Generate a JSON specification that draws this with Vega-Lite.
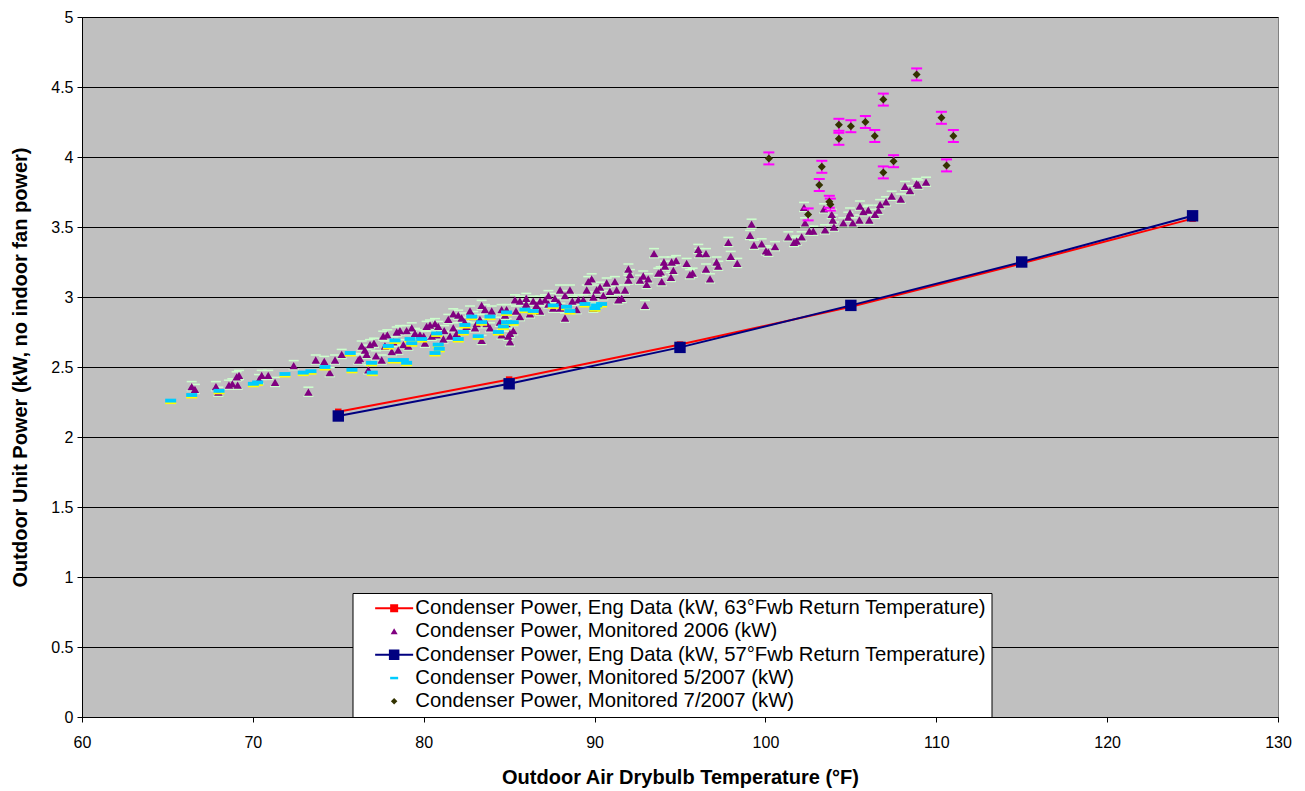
{
"$schema": "https://vega.github.io/schema/vega-lite/v6.json",
"width": 1196, "height": 700,
"autosize": {"type": "none"},
"padding": {"left": 82, "top": 17, "right": 27, "bottom": 74},
"background": "white",
"config": {"view": {"fill": "#C0C0C0", "stroke": "#808080"}, "font": "Liberation Sans"},
"data": {"values": [
{"s":"eng63","x":75,"y":2.18},{"s":"eng63","x":85,"y":2.41},{"s":"eng63","x":95,"y":2.66},{"s":"eng63","x":105,"y":2.93},{"s":"eng63","x":115,"y":3.24},{"s":"eng63","x":125,"y":3.56},
{"s":"m2006","x":66.42,"y":2.36},{"s":"m2006","x":66.61,"y":2.34},{"s":"m2006","x":67.84,"y":2.36},{"s":"m2006","x":67.98,"y":2.32},{"s":"m2006","x":68.6,"y":2.37},{"s":"m2006","x":68.8,"y":2.38},{"s":"m2006","x":69.05,"y":2.43},{"s":"m2006","x":69.19,"y":2.44},{"s":"m2006","x":69.11,"y":2.37},{"s":"m2006","x":70.36,"y":2.41},{"s":"m2006","x":70.52,"y":2.44},{"s":"m2006","x":70.9,"y":2.44},{"s":"m2006","x":71.3,"y":2.39},{"s":"m2006","x":72.39,"y":2.51},{"s":"m2006","x":73.25,"y":2.32},{"s":"m2006","x":73.68,"y":2.55},{"s":"m2006","x":74.18,"y":2.54},{"s":"m2006","x":74.81,"y":2.55},{"s":"m2006","x":74.5,"y":2.46},{"s":"m2006","x":75.2,"y":2.59},
{"s":"m2006","x":76.37,"y":2.65},{"s":"m2006","x":76.56,"y":2.62},{"s":"m2006","x":76.27,"y":2.56},{"s":"m2006","x":76.86,"y":2.66},{"s":"m2006","x":77.09,"y":2.67},{"s":"m2006","x":76.66,"y":2.59},{"s":"m2006","x":77.21,"y":2.58},{"s":"m2006","x":77.54,"y":2.55},{"s":"m2006","x":77.63,"y":2.72},{"s":"m2006","x":77.87,"y":2.73},{"s":"m2006","x":77.73,"y":2.65},{"s":"m2006","x":78.13,"y":2.61},{"s":"m2006","x":78.42,"y":2.75},{"s":"m2006","x":78.61,"y":2.76},{"s":"m2006","x":78.22,"y":2.68},{"s":"m2006","x":78.51,"y":2.62},{"s":"m2006","x":78.81,"y":2.66},{"s":"m2006","x":79.0,"y":2.76},{"s":"m2006","x":79.3,"y":2.78},{"s":"m2006","x":79.49,"y":2.74},{"s":"m2006","x":79.1,"y":2.65},{"s":"m2006","x":79.78,"y":2.73},{"s":"m2006","x":80.07,"y":2.67},{"s":"m2006","x":80.17,"y":2.79},{"s":"m2006","x":80.37,"y":2.8},{"s":"m2006","x":80.66,"y":2.81},{"s":"m2006","x":80.85,"y":2.79},{"s":"m2006","x":80.47,"y":2.72},{"s":"m2006","x":80.76,"y":2.73},{"s":"m2006","x":81.15,"y":2.7},{"s":"m2006","x":81.44,"y":2.84},{"s":"m2006","x":81.73,"y":2.88},{"s":"m2006","x":82.02,"y":2.87},{"s":"m2006","x":82.22,"y":2.85},{"s":"m2006","x":81.73,"y":2.78},{"s":"m2006","x":81.93,"y":2.74},{"s":"m2006","x":81.54,"y":2.72},{"s":"m2006","x":82.71,"y":2.9},{"s":"m2006","x":82.9,"y":2.86},{"s":"m2006","x":82.51,"y":2.79},{"s":"m2006","x":83.0,"y":2.78},{"s":"m2006","x":83.39,"y":2.94},{"s":"m2006","x":83.59,"y":2.91},{"s":"m2006","x":83.29,"y":2.84},{"s":"m2006","x":83.1,"y":2.81},{"s":"m2006","x":83.68,"y":2.81},{"s":"m2006","x":83.98,"y":2.9},{"s":"m2006","x":83.88,"y":2.78},{"s":"m2006","x":84.56,"y":2.91},{"s":"m2006","x":84.76,"y":2.87},{"s":"m2006","x":84.46,"y":2.82},{"s":"m2006","x":84.85,"y":2.81},{"s":"m2006","x":84.95,"y":2.72},{"s":"m2006","x":83.39,"y":2.69},{"s":"m2006","x":84.56,"y":2.73},{"s":"m2006","x":76.76,"y":2.48},{"s":"m2006","x":76.17,"y":2.55},
{"s":"m2006","x":85.05,"y":2.74},{"s":"m2006","x":85.05,"y":2.68},{"s":"m2006","x":85.24,"y":2.76},{"s":"m2006","x":85.34,"y":2.98},{"s":"m2006","x":85.63,"y":2.97},{"s":"m2006","x":85.93,"y":2.93},{"s":"m2006","x":86.41,"y":2.97},{"s":"m2006","x":86.81,"y":2.97},{"s":"m2006","x":87.1,"y":2.98},{"s":"m2006","x":87.68,"y":2.99},{"s":"m2006","x":87.98,"y":3.05},{"s":"m2006","x":88.27,"y":3.01},{"s":"m2006","x":88.56,"y":3.05},{"s":"m2006","x":88.27,"y":2.85},{"s":"m2006","x":89.05,"y":2.98},{"s":"m2006","x":88.95,"y":2.91},{"s":"m2006","x":89.34,"y":2.98},{"s":"m2006","x":89.63,"y":3.11},{"s":"m2006","x":89.83,"y":3.13},{"s":"m2006","x":89.54,"y":3.05},{"s":"m2006","x":89.93,"y":3.0},{"s":"m2006","x":90.12,"y":3.05},{"s":"m2006","x":90.32,"y":3.07},{"s":"m2006","x":90.51,"y":3.01},{"s":"m2006","x":90.71,"y":3.1},{"s":"m2006","x":90.9,"y":3.04},{"s":"m2006","x":91.19,"y":3.11},{"s":"m2006","x":91.29,"y":3.05},{"s":"m2006","x":91.39,"y":2.98},{"s":"m2006","x":91.59,"y":2.99},{"s":"m2006","x":91.78,"y":3.05},{"s":"m2006","x":91.98,"y":3.12},{"s":"m2006","x":91.98,"y":3.2},{"s":"m2006","x":92.07,"y":3.16},{"s":"m2006","x":92.66,"y":3.12},{"s":"m2006","x":92.85,"y":3.15},{"s":"m2006","x":93.05,"y":3.09},{"s":"m2006","x":93.14,"y":3.13},{"s":"m2006","x":92.95,"y":2.94},{"s":"m2006","x":93.48,"y":3.31},{"s":"m2006","x":93.73,"y":3.17},{"s":"m2006","x":89.93,"y":2.92},{"s":"m2006","x":87.58,"y":2.92},{"s":"m2006","x":86.81,"y":2.9},{"s":"m2006","x":86.22,"y":2.88},{"s":"m2006","x":85.63,"y":2.86},{"s":"m2006","x":84.85,"y":2.91},
{"s":"m2006","x":86.0,"y":2.95},{"s":"m2006","x":86.6,"y":2.94},{"s":"m2006","x":87.3,"y":2.95},{"s":"m2006","x":87.9,"y":2.96},{"s":"m2006","x":88.7,"y":2.97},{"s":"m2006","x":85.4,"y":2.9},{"s":"m2006","x":86.0,"y":2.99},{"s":"m2006","x":87.3,"y":3.01},{"s":"m2006","x":88.0,"y":2.92},{"s":"m2006","x":82.4,"y":2.82},{"s":"m2006","x":81.2,"y":2.76},{"s":"m2006","x":80.0,"y":2.72},
{"s":"m2006","x":93.93,"y":3.11},{"s":"m2006","x":93.87,"y":3.18},{"s":"m2006","x":94.06,"y":3.25},{"s":"m2006","x":94.12,"y":3.22},{"s":"m2006","x":94.47,"y":3.14},{"s":"m2006","x":94.51,"y":3.25},{"s":"m2006","x":94.61,"y":3.19},{"s":"m2006","x":94.77,"y":3.26},{"s":"m2006","x":95.39,"y":3.24},{"s":"m2006","x":95.58,"y":3.16},{"s":"m2006","x":95.74,"y":3.17},{"s":"m2006","x":96.07,"y":3.34},{"s":"m2006","x":96.13,"y":3.31},{"s":"m2006","x":96.52,"y":3.31},{"s":"m2006","x":96.52,"y":3.2},{"s":"m2006","x":96.76,"y":3.13},{"s":"m2006","x":97.14,"y":3.25},{"s":"m2006","x":97.24,"y":3.22},{"s":"m2006","x":97.83,"y":3.39},{"s":"m2006","x":97.97,"y":3.29},{"s":"m2006","x":98.35,"y":3.24},{"s":"m2006","x":99.19,"y":3.52},{"s":"m2006","x":99.1,"y":3.44},{"s":"m2006","x":99.33,"y":3.37},{"s":"m2006","x":99.78,"y":3.38},{"s":"m2006","x":100.03,"y":3.33},{"s":"m2006","x":100.17,"y":3.32},{"s":"m2006","x":100.56,"y":3.36},{"s":"m2006","x":101.34,"y":3.43},{"s":"m2006","x":101.67,"y":3.39},{"s":"m2006","x":101.83,"y":3.4},
{"s":"m2006","x":102.12,"y":3.43},{"s":"m2006","x":102.26,"y":3.64},{"s":"m2006","x":102.32,"y":3.53},{"s":"m2006","x":102.57,"y":3.47},{"s":"m2006","x":102.8,"y":3.47},{"s":"m2006","x":103.43,"y":3.63},{"s":"m2006","x":103.49,"y":3.48},{"s":"m2006","x":103.88,"y":3.59},{"s":"m2006","x":103.94,"y":3.55},{"s":"m2006","x":104.01,"y":3.5},{"s":"m2006","x":104.56,"y":3.53},{"s":"m2006","x":104.85,"y":3.57},{"s":"m2006","x":104.95,"y":3.6},{"s":"m2006","x":105.11,"y":3.53},{"s":"m2006","x":105.5,"y":3.55},{"s":"m2006","x":105.53,"y":3.65},{"s":"m2006","x":105.73,"y":3.61},{"s":"m2006","x":106.02,"y":3.62},{"s":"m2006","x":106.08,"y":3.55},{"s":"m2006","x":106.41,"y":3.59},{"s":"m2006","x":106.61,"y":3.62},{"s":"m2006","x":106.71,"y":3.66},{"s":"m2006","x":107.06,"y":3.68},{"s":"m2006","x":107.39,"y":3.72},{"s":"m2006","x":107.92,"y":3.7},{"s":"m2006","x":108.17,"y":3.79},{"s":"m2006","x":108.46,"y":3.76},{"s":"m2006","x":108.85,"y":3.81},{"s":"m2006","x":108.95,"y":3.8},{"s":"m2006","x":109.4,"y":3.82},
{"s":"eng57","x":75,"y":2.15},{"s":"eng57","x":85,"y":2.38},{"s":"eng57","x":95,"y":2.64},{"s":"eng57","x":105,"y":2.94},{"s":"eng57","x":115,"y":3.25},{"s":"eng57","x":125,"y":3.58},
{"s":"m052007","x":65.19,"y":2.26},{"s":"m052007","x":66.42,"y":2.3},{"s":"m052007","x":68.02,"y":2.33},{"s":"m052007","x":70.03,"y":2.38},{"s":"m052007","x":70.28,"y":2.39},{"s":"m052007","x":71.88,"y":2.45},{"s":"m052007","x":72.95,"y":2.46},{"s":"m052007","x":73.4,"y":2.47},{"s":"m052007","x":74.22,"y":2.5},{"s":"m052007","x":75.7,"y":2.6},{"s":"m052007","x":75.8,"y":2.48},{"s":"m052007","x":76.95,"y":2.53},{"s":"m052007","x":76.99,"y":2.46},{"s":"m052007","x":77.93,"y":2.65},{"s":"m052007","x":78.22,"y":2.55},{"s":"m052007","x":78.81,"y":2.55},{"s":"m052007","x":79.0,"y":2.53},{"s":"m052007","x":78.32,"y":2.69},{"s":"m052007","x":79.2,"y":2.7},{"s":"m052007","x":79.3,"y":2.67},{"s":"m052007","x":79.88,"y":2.7},{"s":"m052007","x":80.66,"y":2.6},{"s":"m052007","x":80.85,"y":2.66},{"s":"m052007","x":80.91,"y":2.63},{"s":"m052007","x":80.76,"y":2.74},{"s":"m052007","x":82.02,"y":2.7},{"s":"m052007","x":82.32,"y":2.75},{"s":"m052007","x":82.41,"y":2.8},{"s":"m052007","x":82.81,"y":2.86},{"s":"m052007","x":83.19,"y":2.72},{"s":"m052007","x":83.39,"y":2.82},{"s":"m052007","x":83.88,"y":2.86},{"s":"m052007","x":84.37,"y":2.75},{"s":"m052007","x":84.66,"y":2.79},{"s":"m052007","x":84.85,"y":2.89},{"s":"m052007","x":84.85,"y":2.82},{"s":"m052007","x":85.24,"y":2.82},{"s":"m052007","x":85.93,"y":2.91},{"s":"m052007","x":86.41,"y":2.9},{"s":"m052007","x":87.58,"y":2.94},{"s":"m052007","x":88.36,"y":2.93},{"s":"m052007","x":88.56,"y":2.9},{"s":"m052007","x":89.44,"y":2.95},{"s":"m052007","x":90.02,"y":2.92},{"s":"m052007","x":90.12,"y":2.94},{"s":"m052007","x":90.41,"y":2.95},
{"s":"m072007","x":100.2,"y":3.99},{"s":"m072007","x":103.3,"y":3.93},{"s":"m072007","x":103.15,"y":3.8},{"s":"m072007","x":103.74,"y":3.68},{"s":"m072007","x":103.8,"y":3.66},{"s":"m072007","x":102.5,"y":3.59},{"s":"m072007","x":104.3,"y":4.23},{"s":"m072007","x":104.3,"y":4.13},{"s":"m072007","x":105.0,"y":4.22},{"s":"m072007","x":105.85,"y":4.25},{"s":"m072007","x":106.4,"y":4.15},{"s":"m072007","x":106.9,"y":4.41},{"s":"m072007","x":106.9,"y":3.89},{"s":"m072007","x":107.5,"y":3.97},{"s":"m072007","x":108.85,"y":4.59},{"s":"m072007","x":110.3,"y":4.28},{"s":"m072007","x":111.0,"y":4.15},{"s":"m072007","x":110.6,"y":3.94}
]},
"encoding": {
 "x": {"field": "x", "type": "quantitative", "scale": {"domain": [60, 130], "nice": false, "zero": false},
  "axis": {"title": "Outdoor Air Drybulb Temperature (°F)", "values": [60,70,80,90,100,110,120,130], "grid": false, "tickSize": 5, "tickColor": "black", "domainColor": "black", "domainWidth": 1, "labelFontSize": 16, "labelColor": "black", "labelPadding": 12, "labelFlush": false, "labelOverlap": false, "titleFontSize": 20, "titleFontWeight": "bold", "titleColor": "black", "titlePadding": 17}},
 "y": {"field": "y", "type": "quantitative", "scale": {"domain": [0, 5], "nice": false},
  "axis": {"title": "Outdoor Unit Power (kW, no indoor fan power)", "values": [0,0.5,1,1.5,2,2.5,3,3.5,4,4.5,5], "format": "~g", "grid": true, "gridColor": "black", "gridWidth": 1, "gridOpacity": 1, "tickSize": 5, "tickColor": "black", "domainColor": "black", "domainWidth": 1, "labelFontSize": 16, "labelColor": "black", "labelPadding": 4, "labelFlush": false, "labelOverlap": false, "titleFontSize": 20, "titleFontWeight": "bold", "titleColor": "black", "titlePadding": 20}}
},
"layer": [
 {"transform": [{"filter": "datum.s === 'eng63'"}], "mark": {"type": "line", "color": "#FF0000", "strokeWidth": 2}},
 {"transform": [{"filter": "datum.s === 'eng57'"}], "mark": {"type": "line", "color": "#000080", "strokeWidth": 2}},
 {"transform": [{"filter": "datum.s === 'm2006'"}], "mark": {"type": "tick", "orient": "horizontal", "color": "#CCFFCC", "size": 10, "thickness": 1.5, "yOffset": -5, "opacity": 1}},
 {"transform": [{"filter": "datum.s === 'm2006'"}], "mark": {"type": "tick", "orient": "horizontal", "color": "#CCFFCC", "size": 10, "thickness": 1.5, "yOffset": 4, "opacity": 1}},
 {"transform": [{"filter": "datum.s === 'eng63'"}], "mark": {"type": "point", "shape": "square", "filled": true, "opacity": 1, "size": 42, "color": "#FF0000"}},
 {"transform": [{"filter": "datum.s === 'm2006'"}], "mark": {"type": "point", "shape": "triangle-up", "filled": true, "opacity": 1, "size": 72, "color": "#800080"}},
 {"transform": [{"filter": "datum.s === 'eng57'"}], "mark": {"type": "point", "shape": "square", "filled": true, "opacity": 1, "size": 130, "color": "#000080"}},
 {"transform": [{"filter": "datum.s === 'm052007'"}], "mark": {"type": "tick", "orient": "horizontal", "color": "#FFFF00", "size": 11, "thickness": 2, "yOffset": 2.5, "opacity": 1}},
 {"transform": [{"filter": "datum.s === 'm052007'"}], "mark": {"type": "point", "shape": "M-1,-0.35H1V0.35H-1Z", "filled": true, "opacity": 1, "size": 121, "color": "#00CCFF"}},
 {"transform": [{"filter": "datum.s === 'm072007'"}], "mark": {"type": "tick", "orient": "vertical", "color": "#FF00FF", "size": 12, "thickness": 1.5, "opacity": 1}},
 {"transform": [{"filter": "datum.s === 'm072007'"}], "mark": {"type": "tick", "orient": "horizontal", "color": "#FF00FF", "size": 11, "thickness": 2, "yOffset": -6, "opacity": 1}},
 {"transform": [{"filter": "datum.s === 'm072007'"}], "mark": {"type": "tick", "orient": "horizontal", "color": "#FF00FF", "size": 11, "thickness": 2, "yOffset": 6, "opacity": 1}},
 {"transform": [{"filter": "datum.s === 'm072007'"}], "mark": {"type": "point", "shape": "diamond", "filled": true, "opacity": 1, "size": 64, "color": "#333300"}},
 {"transform": [{"filter": "false"}],
  "mark": {"type": "point", "filled": true, "opacity": 1},
  "encoding": {
   "color": {"field": "s", "type": "nominal",
     "scale": {"domain": ["eng63","m2006","eng57","m052007","m072007"], "range": ["#FF0000","#800080","#000080","#00CCFF","#333300"]},
     "legend": {"orient": "none", "legendX": 270.5, "legendY": 576, "title": null,
       "labelExpr": "datum.value === 'eng63' ? 'Condenser Power, Eng Data (kW, 63°Fwb Return Temperature)' : datum.value === 'm2006' ? 'Condenser Power, Monitored 2006 (kW)' : datum.value === 'eng57' ? 'Condenser Power, Eng Data (kW, 57°Fwb Return Temperature)' : datum.value === 'm052007' ? 'Condenser Power, Monitored 5/2007 (kW)' : 'Condenser Power, Monitored 7/2007 (kW)'",
       "labelFont": "Liberation Sans", "labelFontSize": 20.3, "labelColor": "black", "labelLimit": 1000,
       "symbolSize": 100, "symbolOffset": 26.5, "labelOffset": 11, "rowPadding": 2.3, "padding": 5,
       "symbolStrokeWidth": 2, "symbolOpacity": 1,
       "fillColor": "white", "strokeColor": "black"}},
   "shape": {"field": "s", "type": "nominal",
     "scale": {"domain": ["eng63","m2006","eng57","m052007","m072007"], "range": ["M-3.8,0H3.8M-0.6,-0.6H0.6V0.6H-0.6Z","M0,-0.65L0.7,0.55L-0.7,0.55Z","M-3.8,0H3.8M-0.85,-0.85H0.85V0.85H-0.85Z","M-0.8,-0.25H0.8V0.25H-0.8Z","M0,-0.65L0.65,0L0,0.65L-0.65,0Z"]}},
   "stroke": {"field": "s", "type": "nominal",
     "scale": {"domain": ["eng63","m2006","eng57","m052007","m072007"], "range": ["#FF0000","transparent","#000080","transparent","transparent"]}}
  }}
]
}
